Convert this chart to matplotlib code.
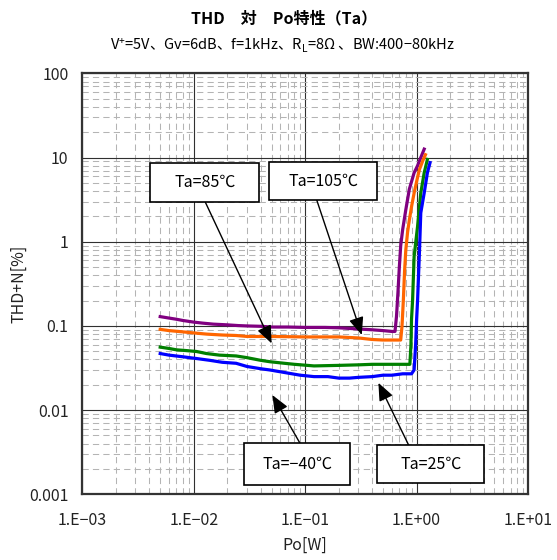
import matplotlib
matplotlib.use("Agg")
import matplotlib.pyplot as plt
from matplotlib.patches import Rectangle
from matplotlib.ticker import LogLocator, FixedLocator, NullFormatter

plt.rcParams['font.family'] = ['Noto Sans CJK JP', 'DejaVu Sans']
plt.rcParams['axes.unicode_minus'] = True

# THD+N vs output power, one series per ambient temperature
po_105 = [0.005, 0.006, 0.007, 0.008, 0.010, 0.012, 0.015, 0.020, 0.025, 0.030,
          0.040, 0.050, 0.070, 0.100, 0.150, 0.200, 0.300, 0.400, 0.500, 0.600,
          0.640, 0.660, 0.680, 0.700, 0.720, 0.750, 0.800, 0.860, 0.950, 1.020,
          1.090, 1.170]
thd_105 = [0.129, 0.124, 0.120, 0.116, 0.111, 0.108, 0.105, 0.103, 0.101, 0.100,
           0.099, 0.097, 0.097, 0.096, 0.096, 0.095, 0.092, 0.090, 0.088, 0.086,
           0.086, 0.130, 0.250, 0.500, 0.900, 1.400, 2.400, 4.200, 6.600, 8.000,
           10.00, 12.60]

po_85 = [0.005, 0.006, 0.008, 0.0106, 0.013, 0.018, 0.024, 0.030, 0.050, 0.100,
         0.150, 0.200, 0.300, 0.400, 0.500, 0.600, 0.720, 0.740, 0.760, 0.780,
         0.800, 0.830, 0.860, 0.900, 0.950, 1.010, 1.060, 1.130, 1.200]
thd_85 = [0.091, 0.088, 0.085, 0.082, 0.080, 0.078, 0.077, 0.075, 0.075, 0.074,
          0.074, 0.074, 0.072, 0.069, 0.068, 0.068, 0.068, 0.100, 0.200, 0.450,
          0.800, 1.300, 1.800, 2.600, 3.800, 5.500, 7.200, 9.000, 10.80]

po_m40 = [0.005, 0.006, 0.007, 0.0085, 0.0106, 0.013, 0.017, 0.024, 0.030, 0.040,
          0.048, 0.065, 0.080, 0.120, 0.200, 0.300, 0.400, 0.600, 0.800, 0.870,
          0.890, 0.900, 0.920, 0.950, 1.020, 1.090, 1.170, 1.250]
thd_m40 = [0.056, 0.054, 0.052, 0.051, 0.0497, 0.047, 0.045, 0.044, 0.042, 0.039,
           0.0376, 0.036, 0.035, 0.0335, 0.034, 0.0345, 0.035, 0.035, 0.035, 0.035,
           0.060, 0.120, 0.200, 0.670, 1.520, 3.800, 6.600, 9.500]

po_25 = [0.005, 0.006, 0.008, 0.0106, 0.014, 0.018, 0.024, 0.030, 0.040, 0.048,
         0.065, 0.090, 0.120, 0.160, 0.200, 0.250, 0.300, 0.400, 0.500, 0.600,
         0.750, 0.900, 0.950, 0.980, 1.000, 1.020, 1.060, 1.090, 1.170, 1.250,
         1.320]
thd_25 = [0.047, 0.045, 0.043, 0.041, 0.039, 0.037, 0.036, 0.033, 0.031, 0.030,
          0.028, 0.026, 0.025, 0.025, 0.024, 0.024, 0.0245, 0.025, 0.026, 0.026,
          0.027, 0.027, 0.030, 0.060, 0.120, 0.200, 0.740, 2.200, 3.800, 6.600,
          8.700]

x_ticks = [1e-3, 1e-2, 1e-1, 1e0, 1e1]
x_ticklabels = ["1.E−03", "1.E−02", "1.E−01", "1.E+00", "1.E+01"]
y_ticks = [1e-3, 1e-2, 1e-1, 1e0, 1e1, 1e2]
y_ticklabels = ["0.001", "0.01", "0.1", "1", "10", "100"]

title = "THD　対　Po特性（Ta）"
subtitle = r"V$\mathregular{^{+}}$=5V、Gv=6dB、f=1kHz、R$\mathregular{_{L}}$=8Ω 、BW:400−80kHz"

fig = plt.figure(figsize=(5.57, 5.60), dpi=100)
ax = fig.add_axes([0.1478, 0.1173, 0.8002, 0.7517])
ax.set_xscale('log')
ax.set_yscale('log')
ax.set_xlim(1e-3, 1e1)
ax.set_ylim(1e-3, 1e2)

# grid: solid decades, dashed minor divisions
ax.xaxis.set_major_locator(FixedLocator(x_ticks))
ax.yaxis.set_major_locator(FixedLocator(y_ticks))
ax.xaxis.set_minor_locator(LogLocator(base=10, subs=range(2, 10), numticks=20))
ax.yaxis.set_minor_locator(LogLocator(base=10, subs=range(2, 10), numticks=20))
ax.xaxis.set_minor_formatter(NullFormatter())
ax.yaxis.set_minor_formatter(NullFormatter())
ax.set_xticklabels(x_ticklabels)
ax.set_yticklabels(y_ticklabels)
ax.grid(which='major', color='#303030', linewidth=0.8, linestyle='-', zorder=1)
ax.grid(which='minor', color='#b4b4b4', linewidth=0.75, linestyle=(0, (6, 4)), zorder=1)
ax.tick_params(which='both', length=0)
ax.tick_params(axis='x', pad=13, labelsize=11.5, colors='#222222')
ax.tick_params(axis='y', pad=10, labelsize=11.5, colors='#222222')
for s in ax.spines.values():
    s.set_color('#333333')
    s.set_linewidth(1.6)
ax.set_axisbelow(True)

lw = 2.3
ax.plot(po_105, thd_105, color='#800080', lw=lw, zorder=3)
ax.plot(po_85, thd_85, color='#ff6600', lw=lw, zorder=3)
ax.plot(po_m40, thd_m40, color='#008000', lw=lw, zorder=3)
ax.plot(po_25, thd_25, color='#0000ff', lw=lw, zorder=3)

ax.set_xlabel("Po[W]", fontsize=11.5, labelpad=5, color='#222222')
ax.set_ylabel("THD+N[%]", fontsize=11.5, labelpad=1, color='#222222')

fig.text(0.51, 0.968, title, ha='center', va='center', fontsize=11.5, fontweight='bold')
fig.text(0.506, 0.919, subtitle, ha='center', va='center', fontsize=10.5)

# labelled callouts: (label, box x0, y0, w, h in axes fraction, arrow start x, arrow tip in data)
callouts = [
    ("Ta=85℃", 0.1519, 0.6955, 0.2453, 0.0919, 0.2753, (0.050, 0.062)),
    ("Ta=105℃", 0.4189, 0.6992, 0.2431, 0.0910, 0.5259, (0.322, 0.078)),
    ("Ta=−40℃", 0.3620, 0.0221, 0.2394, 0.0990, 0.4885, (0.0508, 0.0151)),
    ("Ta=25℃", 0.6618, 0.0257, 0.2401, 0.0926, 0.7315, (0.454, 0.0211)),
]
for label, bx, by, bw, bh, sx, tip in callouts:
    ax.add_patch(Rectangle((bx, by), bw, bh, transform=ax.transAxes,
                           facecolor='white', edgecolor='black', linewidth=1.2, zorder=5))
    ax.text(bx + bw / 2, by + bh / 2, label, transform=ax.transAxes,
            ha='center', va='center', fontsize=11.5, zorder=6)
    start_y = by if by > 0.5 else by + bh
    ax.annotate('', xy=tip, xycoords='data', xytext=(sx, start_y),
                textcoords='axes fraction',
                arrowprops=dict(arrowstyle='-|>,head_length=0.6,head_width=0.25',
                                mutation_scale=18, color='black', lw=1.0,
                                shrinkA=0, shrinkB=0),
                zorder=4)

fig.savefig("out.png", dpi=100, facecolor='white')
